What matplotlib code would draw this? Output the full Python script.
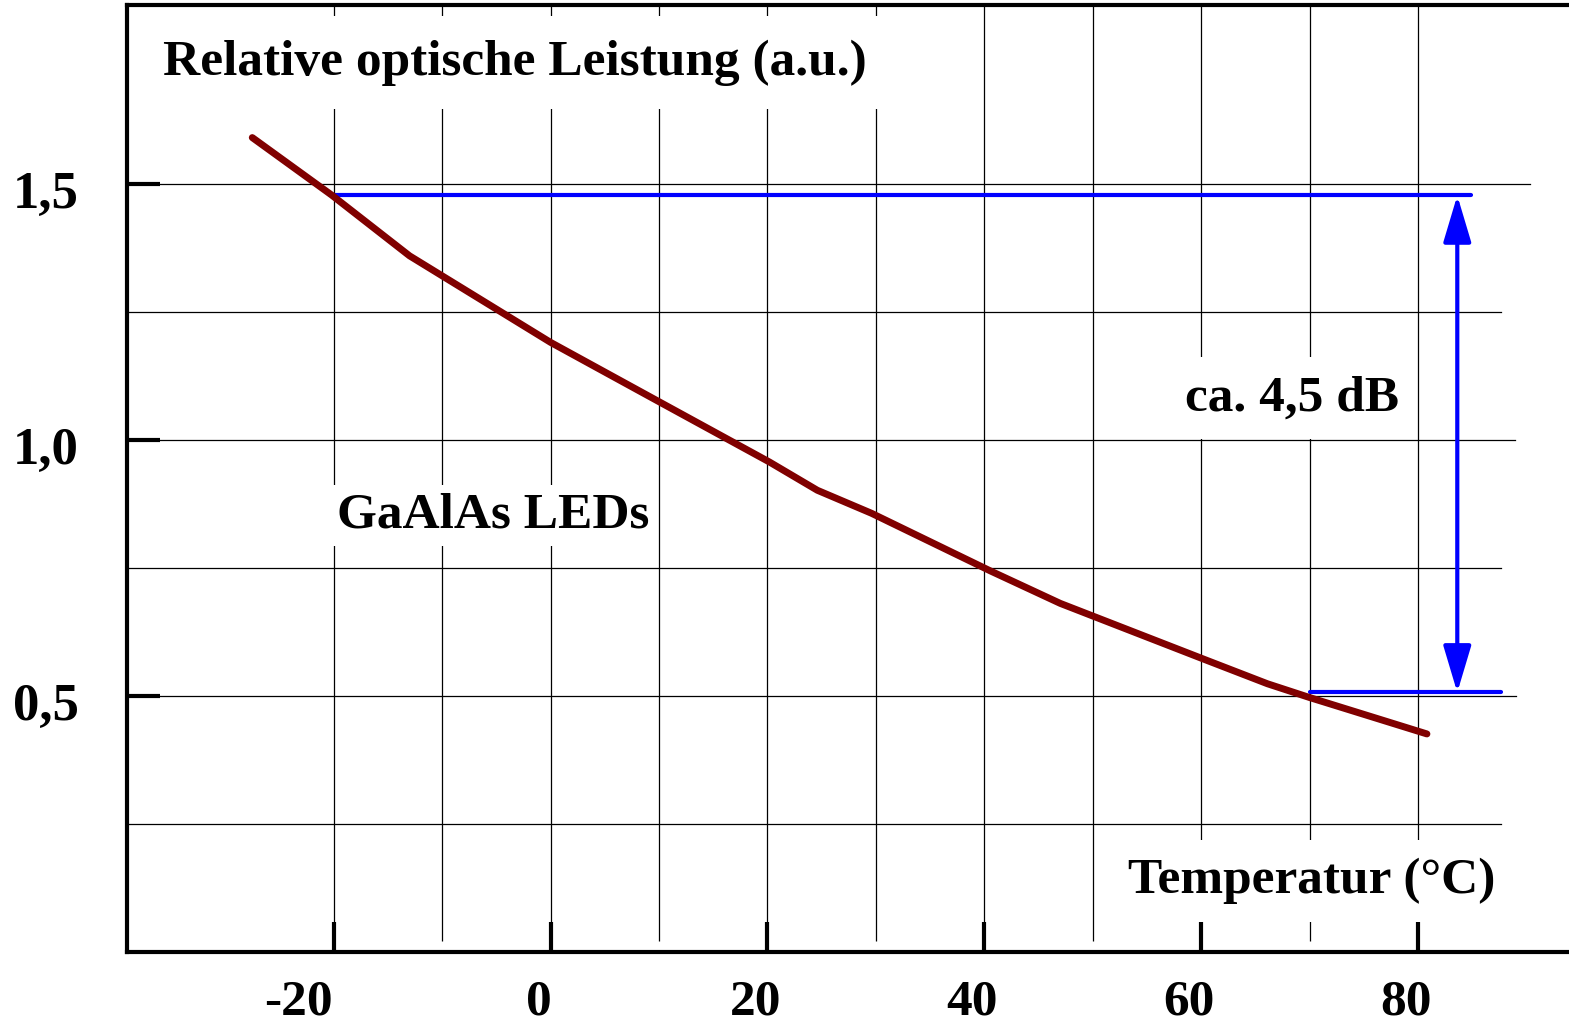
import matplotlib
matplotlib.use("Agg")
import matplotlib.pyplot as plt
from matplotlib.transforms import ScaledTranslation

# curve: temperature (degC) vs relative optical power
temperature = [-27.5, -20.2, -13.0, 0.0, 9.4, 20.2, 24.6, 29.6, 40.5, 47.0, 60.6, 66.1, 70.0, 80.8]
power = [1.591, 1.479, 1.360, 1.191, 1.082, 0.957, 0.902, 0.857, 0.745, 0.681, 0.569, 0.524, 0.497, 0.426]

# the two blue reference levels and the 4.5 dB span
upper_level = 1.478
upper_span = [-20.3, 84.9]
lower_level = 0.507
lower_span = [70.0, 87.6]
arrow_x = 83.6

x_major = [-20, 0, 20, 40, 60, 80]
x_labels = ["-20", "0", "20", "40", "60", "80"]
x_minor = [-10, 10, 30, 50, 70]
y_major = [1.5, 1.0, 0.5]
y_labels = ["1,5", "1,0", "0,5"]
y_grid = [1.5, 1.25, 1.0, 0.75, 0.5, 0.25]
y_grid_end = [90.3, 87.6, 88.9, 87.6, 89.0, 87.6]

title_text = "Relative optische Leistung (a.u.)"
xlabel_text = "Temperatur (°C)"
curve_text = "GaAlAs LEDs"
span_text = "ca. 4,5 dB"

plt.rcParams["font.family"] = ["Liberation Serif", "DejaVu Serif"]
plt.rcParams["font.weight"] = "bold"

W, H = 1569, 1027
fig = plt.figure(figsize=(W / 100, H / 100), dpi=100)
ax = fig.add_axes([127 / W, 75 / H, (W - 127) / W, (952 - 5) / H])
ax.set_xlim(-39.05, 93.9)
ax.set_ylim(0.0, 1.85)

# grid
ax.vlines(x_major + x_minor, 0.021, 1.85, colors="black", lw=0.9, zorder=1)
for yv, xe in zip(y_grid, y_grid_end):
    ax.plot([-39.05, xe], [yv, yv], color="black", lw=0.9, zorder=1)

# spines / ticks
for s in ["left", "bottom", "top"]:
    ax.spines[s].set_linewidth(3.0)
ax.spines["right"].set_visible(False)

ax.set_xticks(x_major)
ax.set_xticklabels(x_labels)
ax.set_yticks(y_major)
ax.set_yticklabels(y_labels)
ax.tick_params(axis="x", direction="in", length=21.6, width=3.0, pad=20,
               labelsize=37, top=False)
ax.tick_params(axis="y", direction="in", length=23.8, width=3.0, pad=35,
               labelsize=38, right=False)
for i, lab in enumerate(ax.get_xticklabels()):
    lab.set_fontweight("bold")
    dx = -0.35 if i == 0 else -0.12
    lab.set_transform(lab.get_transform() + ScaledTranslation(dx, 0, fig.dpi_scale_trans))
for lab in ax.get_yticklabels():
    lab.set_fontweight("bold")
    lab.set_transform(lab.get_transform() + ScaledTranslation(0, -0.05, fig.dpi_scale_trans))

# blue reference lines and arrow
ax.plot(upper_span, [upper_level, upper_level], color="#0000ff", lw=3, zorder=3,
        solid_capstyle="round")
ax.plot(lower_span, [lower_level, lower_level], color="#0000ff", lw=3, zorder=3,
        solid_capstyle="round")
ax.annotate("", xy=(arrow_x, upper_level), xytext=(arrow_x, lower_level),
            arrowprops=dict(arrowstyle="<|-|>,head_length=28.8,head_width=8.6",
                            mutation_scale=1, color="#0000ff", lw=3,
                            shrinkA=0, shrinkB=0), zorder=3)

# curve
ax.plot(temperature, power, color="#800000", lw=5, zorder=4,
        solid_capstyle="round", solid_joinstyle="round")

# labels with white background
box = dict(boxstyle="square,pad=0.35", facecolor="white", edgecolor="none")
ax.text(-35.7, 1.714, title_text, fontsize=37, fontweight="bold",
        ha="left", va="baseline",
        bbox=dict(boxstyle="square,pad=0.45", facecolor="white", edgecolor="none"),
        zorder=2)
ax.text(53.2, 0.115, xlabel_text, fontsize=37, fontweight="bold",
        ha="left", va="baseline", bbox=box, zorder=2)
ax.text(-19.7, 0.829, curve_text, fontsize=37, fontweight="bold",
        ha="left", va="baseline",
        bbox=dict(boxstyle="square,pad=0.15", facecolor="white", edgecolor="none"),
        zorder=2)
ax.text(58.5, 1.058, span_text, fontsize=37, fontweight="bold",
        ha="left", va="baseline", bbox=box, zorder=2)

fig.savefig("out.png", dpi=100)
